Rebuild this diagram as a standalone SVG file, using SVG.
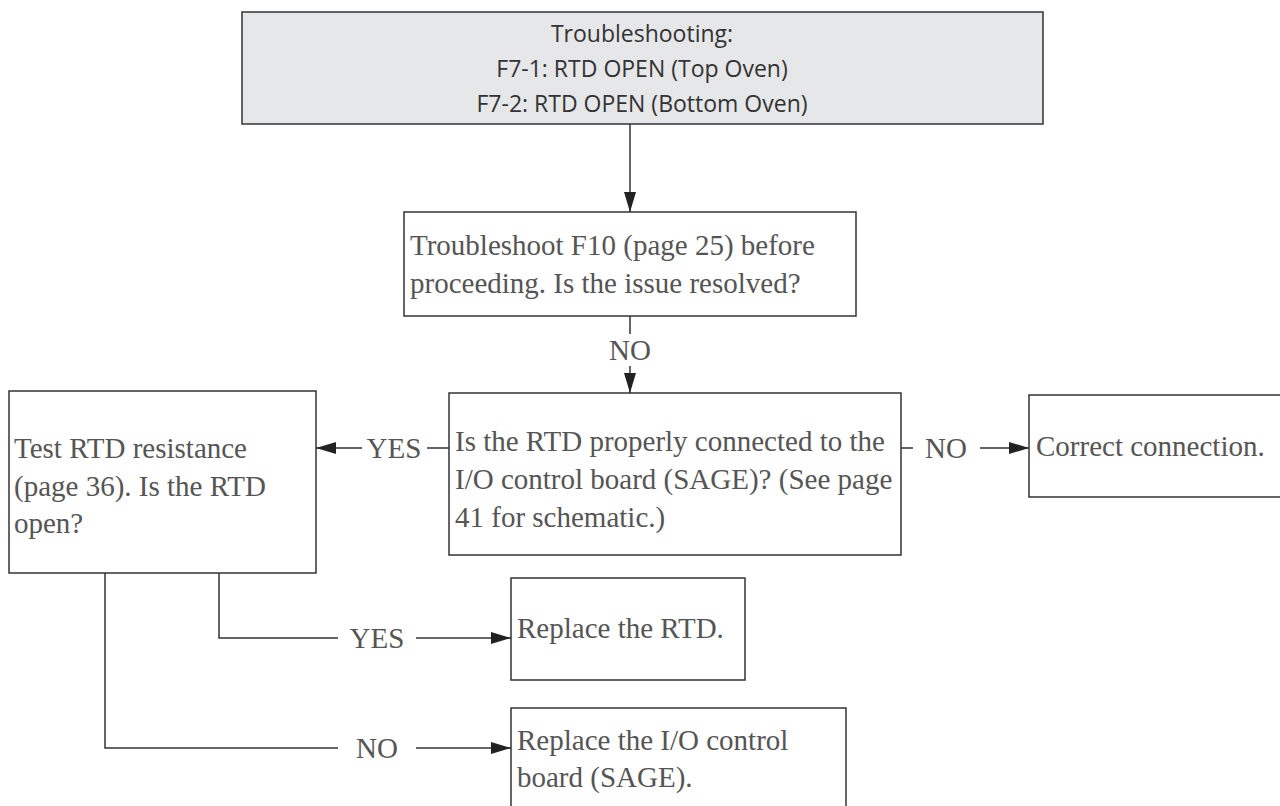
<svg xmlns="http://www.w3.org/2000/svg" width="1280" height="806" viewBox="0 0 1280 806">
<defs>
<style>
.box{fill:#fff;stroke:#333;stroke-width:1.5}
.hdr{fill:#e6e7e8;stroke:#333;stroke-width:1.5}
.t{font-family:"Liberation Serif","DejaVu Serif",serif;font-size:29px;fill:#555}
.h{font-family:"Open Sans","Liberation Sans",sans-serif;font-size:23px;fill:#333;text-anchor:middle}
.ln{fill:none;stroke:#333;stroke-width:1.5}
.lbl{font-family:"Liberation Serif","DejaVu Serif",serif;font-size:29px;fill:#555;text-anchor:middle}
</style>
<marker id="ah" viewBox="0 0 20 12" refX="20" refY="6" markerWidth="20" markerHeight="12" markerUnits="userSpaceOnUse" orient="auto">
<path d="M0,0 L20,6 L0,12 Z" fill="#222"/>
</marker>
</defs>
<g id="n-header">
<rect class="hdr" x="242" y="12" width="801" height="112"/>
<text class="h" x="642" y="42">Troubleshooting:</text>
<text class="h" x="642" y="77">F7-1: RTD OPEN (Top Oven)</text>
<text class="h" x="642" y="112">F7-2: RTD OPEN (Bottom Oven)</text>
</g>
<g id="n-f10">
<rect class="box" x="404" y="212" width="452" height="104"/>
<text class="t" x="410" y="255">Troubleshoot F10 (page 25) before</text>
<text class="t" x="410" y="293">proceeding. Is the issue resolved?</text>
</g>
<g id="n-connected">
<rect class="box" x="449" y="393" width="452" height="162"/>
<text class="t" x="455" y="451">Is the RTD properly connected to the</text>
<text class="t" x="455" y="489">I/O control board (SAGE)? (See page</text>
<text class="t" x="455" y="527">41 for schematic.)</text>
</g>
<g id="n-test">
<rect class="box" x="9" y="391" width="307" height="182"/>
<text class="t" x="14" y="458">Test RTD resistance</text>
<text class="t" x="14" y="496">(page 36). Is the RTD</text>
<text class="t" x="14" y="533">open?</text>
</g>
<g id="n-correct">
<rect class="box" x="1029" y="395" width="260" height="102"/>
<text class="t" x="1036" y="456">Correct connection.</text>
</g>
<g id="n-replace-rtd">
<rect class="box" x="511" y="578" width="234" height="102"/>
<text class="t" x="517" y="638">Replace the RTD.</text>
</g>
<g id="n-replace-io">
<rect class="box" x="511" y="708" width="335" height="110"/>
<text class="t" x="517" y="750">Replace the I/O control</text>
<text class="t" x="517" y="787">board (SAGE).</text>
</g>
<g id="connectors">
<path class="ln" d="M630,124 V212" marker-end="url(#ah)"/>
<path class="ln" d="M630,316 V334"/>
<text class="lbl" x="630" y="360">NO</text>
<path class="ln" d="M630,366 V393" marker-end="url(#ah)"/>
<path class="ln" d="M449,448 H427"/>
<text class="lbl" x="394" y="458">YES</text>
<path class="ln" d="M362,448 H316" marker-end="url(#ah)"/>
<path class="ln" d="M901,448 H913"/>
<text class="lbl" x="946" y="458">NO</text>
<path class="ln" d="M980,448 H1029" marker-end="url(#ah)"/>
<path class="ln" d="M219,573 V638 H338"/>
<text class="lbl" x="377" y="648">YES</text>
<path class="ln" d="M416,638 H511" marker-end="url(#ah)"/>
<path class="ln" d="M105,573 V748 H338"/>
<text class="lbl" x="377" y="758">NO</text>
<path class="ln" d="M416,748 H511" marker-end="url(#ah)"/>
</g>
</svg>
